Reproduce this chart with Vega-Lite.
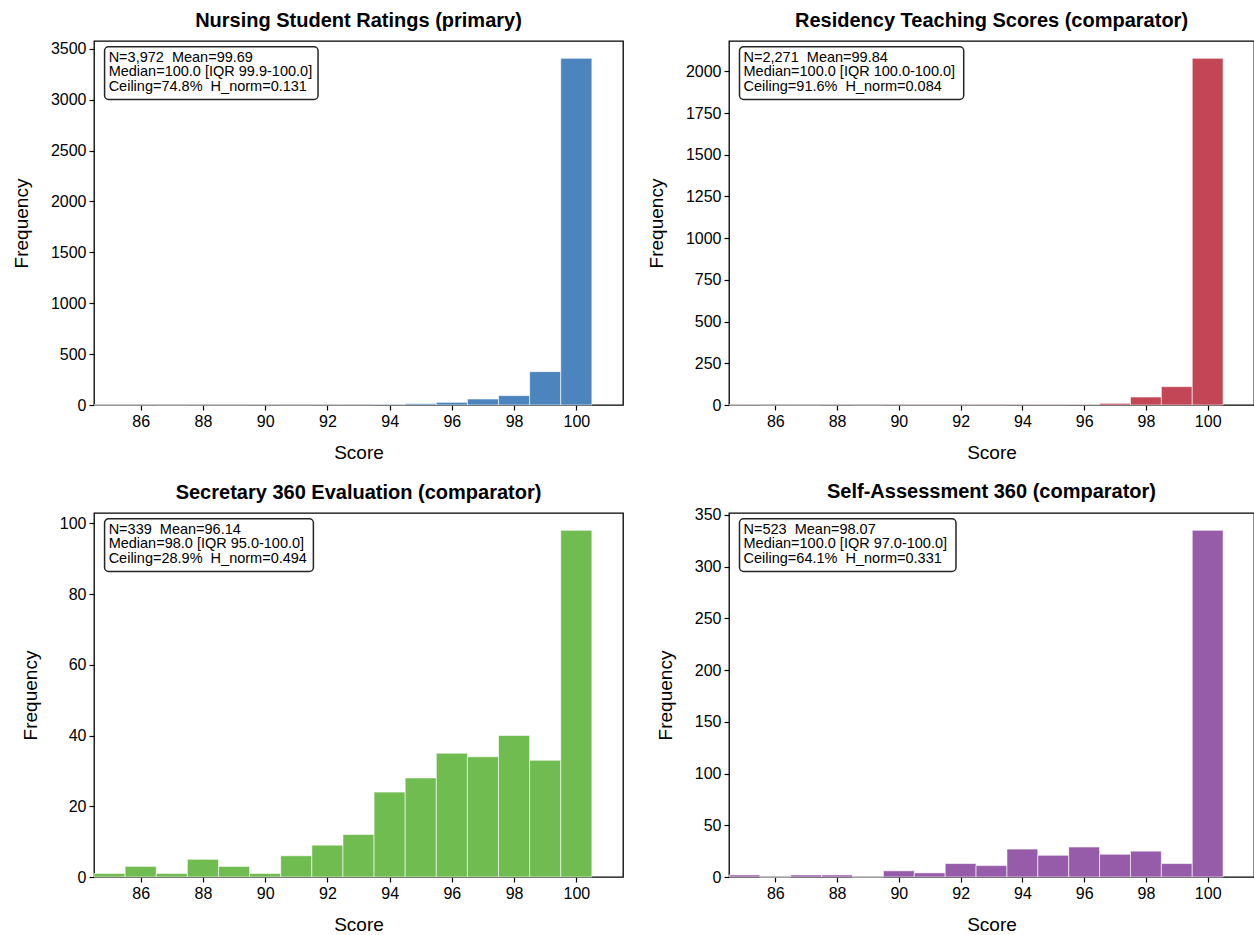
{
  "$schema": "https://vega.github.io/schema/vega-lite/v6.json",
  "background": "white",
  "padding": {"left": 11, "top": 10, "right": 1, "bottom": 2},
  "datasets": {
    "nursing": [
      {"bin_start": 84.5, "bin_end": 85.5, "count": 1},
      {"bin_start": 85.5, "bin_end": 86.5, "count": 1},
      {"bin_start": 86.5, "bin_end": 87.5, "count": 0},
      {"bin_start": 87.5, "bin_end": 88.5, "count": 1},
      {"bin_start": 88.5, "bin_end": 89.5, "count": 1},
      {"bin_start": 89.5, "bin_end": 90.5, "count": 2},
      {"bin_start": 90.5, "bin_end": 91.5, "count": 1},
      {"bin_start": 91.5, "bin_end": 92.5, "count": 2},
      {"bin_start": 92.5, "bin_end": 93.5, "count": 2},
      {"bin_start": 93.5, "bin_end": 94.5, "count": 4},
      {"bin_start": 94.5, "bin_end": 95.5, "count": 13},
      {"bin_start": 95.5, "bin_end": 96.5, "count": 26},
      {"bin_start": 96.5, "bin_end": 97.5, "count": 59},
      {"bin_start": 97.5, "bin_end": 98.5, "count": 92},
      {"bin_start": 98.5, "bin_end": 99.5, "count": 328},
      {"bin_start": 99.5, "bin_end": 100.5, "count": 3407}
    ],
    "residency": [
      {"bin_start": 84.5, "bin_end": 85.5, "count": 1},
      {"bin_start": 85.5, "bin_end": 86.5, "count": 0},
      {"bin_start": 86.5, "bin_end": 87.5, "count": 0},
      {"bin_start": 87.5, "bin_end": 88.5, "count": 1},
      {"bin_start": 88.5, "bin_end": 89.5, "count": 0},
      {"bin_start": 89.5, "bin_end": 90.5, "count": 1},
      {"bin_start": 90.5, "bin_end": 91.5, "count": 1},
      {"bin_start": 91.5, "bin_end": 92.5, "count": 1},
      {"bin_start": 92.5, "bin_end": 93.5, "count": 1},
      {"bin_start": 93.5, "bin_end": 94.5, "count": 2},
      {"bin_start": 94.5, "bin_end": 95.5, "count": 2},
      {"bin_start": 95.5, "bin_end": 96.5, "count": 3},
      {"bin_start": 96.5, "bin_end": 97.5, "count": 10},
      {"bin_start": 97.5, "bin_end": 98.5, "count": 48},
      {"bin_start": 98.5, "bin_end": 99.5, "count": 110},
      {"bin_start": 99.5, "bin_end": 100.5, "count": 2078}
    ],
    "secretary": [
      {"bin_start": 84.5, "bin_end": 85.5, "count": 1},
      {"bin_start": 85.5, "bin_end": 86.5, "count": 3},
      {"bin_start": 86.5, "bin_end": 87.5, "count": 1},
      {"bin_start": 87.5, "bin_end": 88.5, "count": 5},
      {"bin_start": 88.5, "bin_end": 89.5, "count": 3},
      {"bin_start": 89.5, "bin_end": 90.5, "count": 1},
      {"bin_start": 90.5, "bin_end": 91.5, "count": 6},
      {"bin_start": 91.5, "bin_end": 92.5, "count": 9},
      {"bin_start": 92.5, "bin_end": 93.5, "count": 12},
      {"bin_start": 93.5, "bin_end": 94.5, "count": 24},
      {"bin_start": 94.5, "bin_end": 95.5, "count": 28},
      {"bin_start": 95.5, "bin_end": 96.5, "count": 35},
      {"bin_start": 96.5, "bin_end": 97.5, "count": 34},
      {"bin_start": 97.5, "bin_end": 98.5, "count": 40},
      {"bin_start": 98.5, "bin_end": 99.5, "count": 33},
      {"bin_start": 99.5, "bin_end": 100.5, "count": 98}
    ],
    "selfassess": [
      {"bin_start": 84.5, "bin_end": 85.5, "count": 2},
      {"bin_start": 85.5, "bin_end": 86.5, "count": 0},
      {"bin_start": 86.5, "bin_end": 87.5, "count": 2},
      {"bin_start": 87.5, "bin_end": 88.5, "count": 2},
      {"bin_start": 88.5, "bin_end": 89.5, "count": 0},
      {"bin_start": 89.5, "bin_end": 90.5, "count": 6},
      {"bin_start": 90.5, "bin_end": 91.5, "count": 4},
      {"bin_start": 91.5, "bin_end": 92.5, "count": 13},
      {"bin_start": 92.5, "bin_end": 93.5, "count": 11},
      {"bin_start": 93.5, "bin_end": 94.5, "count": 27},
      {"bin_start": 94.5, "bin_end": 95.5, "count": 21},
      {"bin_start": 95.5, "bin_end": 96.5, "count": 29},
      {"bin_start": 96.5, "bin_end": 97.5, "count": 22},
      {"bin_start": 97.5, "bin_end": 98.5, "count": 25},
      {"bin_start": 98.5, "bin_end": 99.5, "count": 13},
      {"bin_start": 99.5, "bin_end": 100.5, "count": 335}
    ],
    "note_nursing": [{"label": "N=3,972\u00a0 Mean=99.69\nMedian=100.0 [IQR 99.9-100.0]\nCeiling=74.8%\u00a0 H_norm=0.131"}],
    "note_residency": [{"label": "N=2,271\u00a0 Mean=99.84\nMedian=100.0 [IQR 100.0-100.0]\nCeiling=91.6%\u00a0 H_norm=0.084"}],
    "note_secretary": [{"label": "N=339\u00a0 Mean=96.14\nMedian=98.0 [IQR 95.0-100.0]\nCeiling=28.9%\u00a0 H_norm=0.494"}],
    "note_self": [{"label": "N=523\u00a0 Mean=98.07\nMedian=100.0 [IQR 97.0-100.0]\nCeiling=64.1%\u00a0 H_norm=0.331"}]
  },
  "columns": 2,
  "bounds": "flush",
  "spacing": {"row": 108, "column": 106},
  "concat": [
    {
      "title": "Nursing Student Ratings (primary)",
      "width": 529, "height": 364,
      "layer": [
        {
          "data": {"name": "nursing"},
          "mark": {"type": "bar", "fill": "#4C84BE", "stroke": "white", "strokeWidth": 0.6},
          "encoding": {
            "x": {"field": "bin_start", "type": "quantitative", "title": "Score", "scale": {"domain": [84.5, 101.5], "nice": false, "zero": false}, "axis": {"values": [86, 88, 90, 92, 94, 96, 98, 100]}},
            "x2": {"field": "bin_end"},
            "y": {"field": "count", "type": "quantitative", "title": "Frequency", "scale": {"domain": [0, 3577.35], "nice": false}, "axis": {"format": "d", "values": [0, 500, 1000, 1500, 2000, 2500, 3000, 3500]}},
            "y2": {"datum": 0}
          }
        },
        {
          "data": {"name": "note_nursing"},
          "mark": {"type": "rect", "fill": "white", "stroke": "#262626", "strokeWidth": 1.5, "cornerRadius": 4},
          "encoding": {
            "x": {"datum": 84.84, "type": "quantitative"}, "x2": {"datum": 91.7},
            "y": {"datum": 3520, "type": "quantitative"}, "y2": {"datum": 3002.8}
          }
        },
        {
          "data": {"name": "note_nursing"},
          "mark": {"type": "text", "align": "left", "baseline": "top", "fontSize": 14.5, "lineHeight": 14.5, "lineBreak": "\n", "color": "black"},
          "encoding": {
            "x": {"datum": 84.97, "type": "quantitative"},
            "y": {"datum": 3482, "type": "quantitative"},
            "text": {"field": "label"}
          }
        }
      ]
    },
    {
      "title": "Residency Teaching Scores (comparator)",
      "width": 525, "height": 364,
      "layer": [
        {
          "data": {"name": "residency"},
          "mark": {"type": "bar", "fill": "#C24656", "stroke": "white", "strokeWidth": 0.6},
          "encoding": {
            "x": {"field": "bin_start", "type": "quantitative", "title": "Score", "scale": {"domain": [84.5, 101.5], "nice": false, "zero": false}, "axis": {"values": [86, 88, 90, 92, 94, 96, 98, 100]}},
            "x2": {"field": "bin_end"},
            "y": {"field": "count", "type": "quantitative", "title": "Frequency", "scale": {"domain": [0, 2181.9], "nice": false}, "axis": {"format": "d", "values": [0, 250, 500, 750, 1000, 1250, 1500, 1750, 2000]}},
            "y2": {"datum": 0}
          }
        },
        {
          "data": {"name": "note_residency"},
          "mark": {"type": "rect", "fill": "white", "stroke": "#262626", "strokeWidth": 1.5, "cornerRadius": 4},
          "encoding": {
            "x": {"datum": 84.84, "type": "quantitative"}, "x2": {"datum": 92.1},
            "y": {"datum": 2147, "type": "quantitative"}, "y2": {"datum": 1831.5}
          }
        },
        {
          "data": {"name": "note_residency"},
          "mark": {"type": "text", "align": "left", "baseline": "top", "fontSize": 14.5, "lineHeight": 14.5, "lineBreak": "\n", "color": "black"},
          "encoding": {
            "x": {"datum": 84.97, "type": "quantitative"},
            "y": {"datum": 2124, "type": "quantitative"},
            "text": {"field": "label"}
          }
        }
      ]
    },
    {
      "title": "Secretary 360 Evaluation (comparator)",
      "width": 529, "height": 364,
      "layer": [
        {
          "data": {"name": "secretary"},
          "mark": {"type": "bar", "fill": "#70BC50", "stroke": "white", "strokeWidth": 0.6},
          "encoding": {
            "x": {"field": "bin_start", "type": "quantitative", "title": "Score", "scale": {"domain": [84.5, 101.5], "nice": false, "zero": false}, "axis": {"values": [86, 88, 90, 92, 94, 96, 98, 100]}},
            "x2": {"field": "bin_end"},
            "y": {"field": "count", "type": "quantitative", "title": "Frequency", "scale": {"domain": [0, 102.9], "nice": false}, "axis": {"format": "d", "values": [0, 20, 40, 60, 80, 100]}},
            "y2": {"datum": 0}
          }
        },
        {
          "data": {"name": "note_secretary"},
          "mark": {"type": "rect", "fill": "white", "stroke": "#262626", "strokeWidth": 1.5, "cornerRadius": 4},
          "encoding": {
            "x": {"datum": 84.84, "type": "quantitative"}, "x2": {"datum": 91.55},
            "y": {"datum": 101.25, "type": "quantitative"}, "y2": {"datum": 86.37}
          }
        },
        {
          "data": {"name": "note_secretary"},
          "mark": {"type": "text", "align": "left", "baseline": "top", "fontSize": 14.5, "lineHeight": 14.5, "lineBreak": "\n", "color": "black"},
          "encoding": {
            "x": {"datum": 84.97, "type": "quantitative"},
            "y": {"datum": 100.17, "type": "quantitative"},
            "text": {"field": "label"}
          }
        }
      ]
    },
    {
      "title": {"text": "Self-Assessment 360 (comparator)", "offset": 5},
      "width": 525, "height": 364,
      "layer": [
        {
          "data": {"name": "selfassess"},
          "mark": {"type": "bar", "fill": "#965CA9", "stroke": "white", "strokeWidth": 0.6},
          "encoding": {
            "x": {"field": "bin_start", "type": "quantitative", "title": "Score", "scale": {"domain": [84.5, 101.5], "nice": false, "zero": false}, "axis": {"values": [86, 88, 90, 92, 94, 96, 98, 100]}},
            "x2": {"field": "bin_end"},
            "y": {"field": "count", "type": "quantitative", "title": "Frequency", "scale": {"domain": [0, 351.75], "nice": false}, "axis": {"format": "d", "values": [0, 50, 100, 150, 200, 250, 300, 350]}},
            "y2": {"datum": 0}
          }
        },
        {
          "data": {"name": "note_self"},
          "mark": {"type": "rect", "fill": "white", "stroke": "#262626", "strokeWidth": 1.5, "cornerRadius": 4},
          "encoding": {
            "x": {"datum": 84.84, "type": "quantitative"}, "x2": {"datum": 91.85},
            "y": {"datum": 346.1, "type": "quantitative"}, "y2": {"datum": 295.26}
          }
        },
        {
          "data": {"name": "note_self"},
          "mark": {"type": "text", "align": "left", "baseline": "top", "fontSize": 14.5, "lineHeight": 14.5, "lineBreak": "\n", "color": "black"},
          "encoding": {
            "x": {"datum": 84.97, "type": "quantitative"},
            "y": {"datum": 342.4, "type": "quantitative"},
            "text": {"field": "label"}
          }
        }
      ]
    }
  ],
  "config": {
    "font": "Liberation Sans",
    "view": {"stroke": "black", "strokeWidth": 1.3},
    "axis": {
      "grid": false, "domain": false,
      "tickColor": "black", "tickSize": 5, "tickWidth": 1.2,
      "labelFontSize": 16, "labelColor": "black", "labelPadding": 3,
      "titleFontSize": 19, "titleFontWeight": "normal", "titleColor": "black"
    },
    "axisX": {"titlePadding": 14},
    "axisY": {"titlePadding": 19},
    "title": {"fontSize": 20, "fontWeight": "bold", "color": "black", "offset": 10},
    "text": {"font": "Liberation Sans"}
  }
}
